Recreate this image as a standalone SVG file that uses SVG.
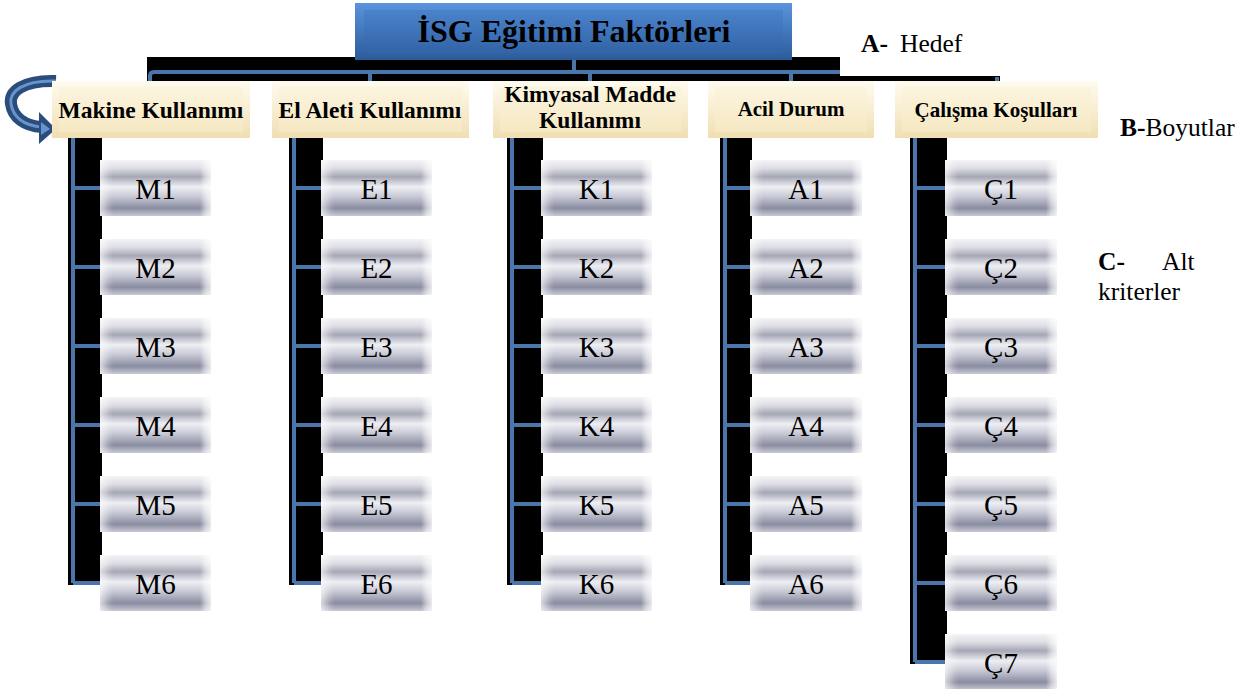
<svg xmlns="http://www.w3.org/2000/svg" width="1254" height="689" viewBox="0 0 1254 689">
<defs>
<linearGradient id="gBlueO" x1="0" y1="0" x2="0" y2="1"><stop offset="0" stop-color="#5a94dc"/><stop offset="1" stop-color="#2c5b9a"/></linearGradient>
<linearGradient id="gBlueI" x1="0" y1="0" x2="0" y2="1"><stop offset="0" stop-color="#4a83cc"/><stop offset="1" stop-color="#3264a6"/></linearGradient>
<linearGradient id="gCreamO" x1="0" y1="0" x2="0" y2="1"><stop offset="0" stop-color="#fefbef"/><stop offset="1" stop-color="#f1dfb2"/></linearGradient>
<linearGradient id="gCreamI" x1="0" y1="0" x2="0" y2="1"><stop offset="0" stop-color="#fbf4de"/><stop offset="1" stop-color="#f6e8c3"/></linearGradient>
<linearGradient id="gSilver" x1="0" y1="0" x2="0" y2="1">
<stop offset="0" stop-color="#f4f4f7"/><stop offset="0.15" stop-color="#dcdce3"/><stop offset="0.3" stop-color="#a6a7b6"/><stop offset="0.48" stop-color="#eeeff3"/><stop offset="0.66" stop-color="#c6c7d3"/><stop offset="0.86" stop-color="#8a8ca1"/><stop offset="1" stop-color="#c8c9d3"/></linearGradient>
<linearGradient id="gSide" x1="0" y1="0" x2="1" y2="0">
<stop offset="0" stop-color="#ffffff" stop-opacity="0.65"/><stop offset="0.08" stop-color="#ffffff" stop-opacity="0.15"/><stop offset="0.12" stop-color="#ffffff" stop-opacity="0"/><stop offset="0.9" stop-color="#ffffff" stop-opacity="0"/><stop offset="0.95" stop-color="#ffffff" stop-opacity="0.5"/><stop offset="1" stop-color="#ffffff" stop-opacity="0.8"/></linearGradient>
<style>
.title{font-family:"Liberation Serif","Times New Roman",serif;font-weight:bold;font-size:32px;fill:#000;text-anchor:middle}
.dim{font-family:"Liberation Serif","Times New Roman",serif;font-weight:bold;font-size:23.5px;fill:#000;text-anchor:middle}
.dims{font-family:"Liberation Serif","Times New Roman",serif;font-weight:bold;font-size:21px;fill:#000;text-anchor:middle}
.leaf{font-family:"Liberation Serif","Times New Roman",serif;font-size:29px;fill:#000;text-anchor:middle}
.lbl{font-family:"Liberation Serif","Times New Roman",serif;font-size:25.5px;fill:#000}
.b{font-weight:bold}
.sh{fill:#000}
.ln{fill:none;stroke:#4a76ac;stroke-width:4}
.silver{fill:url(#gSilver)}
.side{fill:url(#gSide)}
</style>
</defs>
<rect width="1254" height="689" fill="#fff"/>

<g id="connectors">
<rect class="sh" x="147" y="57" width="693" height="24"/>
<rect class="sh" x="840" y="76" width="160" height="5"/>
<path class="ln" d="M574 60 V72 M840 72 H154 Q150 72 150 76 V81 M370 72 V81 M590 72 V81 M791 72 V81 M997 77 V81"/>
<rect class="sh" x="68" y="138" width="34" height="447"/>
<rect class="sh" x="289" y="138" width="34" height="447"/>
<rect class="sh" x="507" y="138" width="36" height="447"/>
<rect class="sh" x="720" y="138" width="32" height="447"/>
<rect class="sh" x="910" y="138" width="37" height="526"/>
<path class="ln" d="M73 138 V583 M73 188 H100 M73 267 H100 M73 346 H100 M73 425 H100 M73 504 H100 M73 583 H100"/>
<path class="ln" d="M294 138 V583 M294 188 H321 M294 267 H321 M294 346 H321 M294 425 H321 M294 504 H321 M294 583 H321"/>
<path class="ln" d="M512 138 V583 M512 188 H541 M512 267 H541 M512 346 H541 M512 425 H541 M512 504 H541 M512 583 H541"/>
<path class="ln" d="M725 138 V583 M725 188 H750 M725 267 H750 M725 346 H750 M725 425 H750 M725 504 H750 M725 583 H750"/>
<path class="ln" d="M915 138 V662 M915 188 H945 M915 267 H945 M915 346 H945 M915 425 H945 M915 504 H945 M915 583 H945 M915 662 H945"/>
</g>

<g id="arrow">
<path d="M56 81 C22 80 9 92 11 104 C13 117 24 126 42 127" fill="none" stroke="#2b4d7b" stroke-width="12"/>
<path d="M56 81 C22 80 9 92 11 104 C13 117 24 126 42 127" fill="none" stroke="#6794ca" stroke-width="3"/>
<polygon points="39,112 56,129 39,144" fill="#2b4d7b"/>
<polygon points="41,122 50,129 41,135" fill="#6794ca"/>
</g>

<g id="goal">
<rect x="355" y="3" width="437" height="57" fill="url(#gBlueO)"/>
<rect x="364" y="10" width="419" height="43" fill="url(#gBlueI)"/>
<text class="title" x="574" y="42">İSG Eğitimi Faktörleri</text>
</g>

<g id="dim-makine">
<rect x="52" y="81" width="198" height="57" fill="url(#gCreamO)"/>
<rect x="59" y="87" width="184" height="45" fill="url(#gCreamI)"/>
<text class="dim" x="151" y="118">Makine Kullanımı</text>
</g>
<g id="dim-elaleti">
<rect x="272" y="81" width="197" height="57" fill="url(#gCreamO)"/>
<rect x="279" y="87" width="183" height="45" fill="url(#gCreamI)"/>
<text class="dim" x="370" y="118">El Aleti Kullanımı</text>
</g>
<g id="dim-kimyasal">
<rect x="493" y="81" width="195" height="57" fill="url(#gCreamO)"/>
<rect x="500" y="87" width="181" height="45" fill="url(#gCreamI)"/>
<text class="dim" x="590" y="102">Kimyasal Madde</text>
<text class="dim" x="590" y="128">Kullanımı</text>
</g>
<g id="dim-acil">
<rect x="708" y="81" width="166" height="57" fill="url(#gCreamO)"/>
<rect x="715" y="87" width="152" height="45" fill="url(#gCreamI)"/>
<text class="dims" x="791" y="116">Acil Durum</text>
</g>
<g id="dim-calisma">
<rect x="895" y="81" width="203" height="57" fill="url(#gCreamO)"/>
<rect x="902" y="87" width="189" height="45" fill="url(#gCreamI)"/>
<text class="dims" x="996" y="117">Çalışma Koşulları</text>
</g>

<g id="M1"><rect class="silver" x="100" y="160" width="111" height="56"/><rect class="side" x="100" y="160" width="111" height="56"/><text class="leaf" x="155.5" y="199">M1</text></g>
<g id="M2"><rect class="silver" x="100" y="239" width="111" height="56"/><rect class="side" x="100" y="239" width="111" height="56"/><text class="leaf" x="155.5" y="278">M2</text></g>
<g id="M3"><rect class="silver" x="100" y="318" width="111" height="56"/><rect class="side" x="100" y="318" width="111" height="56"/><text class="leaf" x="155.5" y="357">M3</text></g>
<g id="M4"><rect class="silver" x="100" y="397" width="111" height="56"/><rect class="side" x="100" y="397" width="111" height="56"/><text class="leaf" x="155.5" y="436">M4</text></g>
<g id="M5"><rect class="silver" x="100" y="476" width="111" height="56"/><rect class="side" x="100" y="476" width="111" height="56"/><text class="leaf" x="155.5" y="515">M5</text></g>
<g id="M6"><rect class="silver" x="100" y="555" width="111" height="56"/><rect class="side" x="100" y="555" width="111" height="56"/><text class="leaf" x="155.5" y="594">M6</text></g>

<g id="E1"><rect class="silver" x="321" y="160" width="111" height="56"/><rect class="side" x="321" y="160" width="111" height="56"/><text class="leaf" x="376.5" y="199">E1</text></g>
<g id="E2"><rect class="silver" x="321" y="239" width="111" height="56"/><rect class="side" x="321" y="239" width="111" height="56"/><text class="leaf" x="376.5" y="278">E2</text></g>
<g id="E3"><rect class="silver" x="321" y="318" width="111" height="56"/><rect class="side" x="321" y="318" width="111" height="56"/><text class="leaf" x="376.5" y="357">E3</text></g>
<g id="E4"><rect class="silver" x="321" y="397" width="111" height="56"/><rect class="side" x="321" y="397" width="111" height="56"/><text class="leaf" x="376.5" y="436">E4</text></g>
<g id="E5"><rect class="silver" x="321" y="476" width="111" height="56"/><rect class="side" x="321" y="476" width="111" height="56"/><text class="leaf" x="376.5" y="515">E5</text></g>
<g id="E6"><rect class="silver" x="321" y="555" width="111" height="56"/><rect class="side" x="321" y="555" width="111" height="56"/><text class="leaf" x="376.5" y="594">E6</text></g>

<g id="K1"><rect class="silver" x="541" y="160" width="111" height="56"/><rect class="side" x="541" y="160" width="111" height="56"/><text class="leaf" x="596.5" y="199">K1</text></g>
<g id="K2"><rect class="silver" x="541" y="239" width="111" height="56"/><rect class="side" x="541" y="239" width="111" height="56"/><text class="leaf" x="596.5" y="278">K2</text></g>
<g id="K3"><rect class="silver" x="541" y="318" width="111" height="56"/><rect class="side" x="541" y="318" width="111" height="56"/><text class="leaf" x="596.5" y="357">K3</text></g>
<g id="K4"><rect class="silver" x="541" y="397" width="111" height="56"/><rect class="side" x="541" y="397" width="111" height="56"/><text class="leaf" x="596.5" y="436">K4</text></g>
<g id="K5"><rect class="silver" x="541" y="476" width="111" height="56"/><rect class="side" x="541" y="476" width="111" height="56"/><text class="leaf" x="596.5" y="515">K5</text></g>
<g id="K6"><rect class="silver" x="541" y="555" width="111" height="56"/><rect class="side" x="541" y="555" width="111" height="56"/><text class="leaf" x="596.5" y="594">K6</text></g>

<g id="A1"><rect class="silver" x="750" y="160" width="112" height="56"/><rect class="side" x="750" y="160" width="112" height="56"/><text class="leaf" x="806" y="199">A1</text></g>
<g id="A2"><rect class="silver" x="750" y="239" width="112" height="56"/><rect class="side" x="750" y="239" width="112" height="56"/><text class="leaf" x="806" y="278">A2</text></g>
<g id="A3"><rect class="silver" x="750" y="318" width="112" height="56"/><rect class="side" x="750" y="318" width="112" height="56"/><text class="leaf" x="806" y="357">A3</text></g>
<g id="A4"><rect class="silver" x="750" y="397" width="112" height="56"/><rect class="side" x="750" y="397" width="112" height="56"/><text class="leaf" x="806" y="436">A4</text></g>
<g id="A5"><rect class="silver" x="750" y="476" width="112" height="56"/><rect class="side" x="750" y="476" width="112" height="56"/><text class="leaf" x="806" y="515">A5</text></g>
<g id="A6"><rect class="silver" x="750" y="555" width="112" height="56"/><rect class="side" x="750" y="555" width="112" height="56"/><text class="leaf" x="806" y="594">A6</text></g>

<g id="C1"><rect class="silver" x="945" y="160" width="112" height="56"/><rect class="side" x="945" y="160" width="112" height="56"/><text class="leaf" x="1001" y="199">Ç1</text></g>
<g id="C2"><rect class="silver" x="945" y="239" width="112" height="56"/><rect class="side" x="945" y="239" width="112" height="56"/><text class="leaf" x="1001" y="278">Ç2</text></g>
<g id="C3"><rect class="silver" x="945" y="318" width="112" height="56"/><rect class="side" x="945" y="318" width="112" height="56"/><text class="leaf" x="1001" y="357">Ç3</text></g>
<g id="C4"><rect class="silver" x="945" y="397" width="112" height="56"/><rect class="side" x="945" y="397" width="112" height="56"/><text class="leaf" x="1001" y="436">Ç4</text></g>
<g id="C5"><rect class="silver" x="945" y="476" width="112" height="56"/><rect class="side" x="945" y="476" width="112" height="56"/><text class="leaf" x="1001" y="515">Ç5</text></g>
<g id="C6"><rect class="silver" x="945" y="555" width="112" height="56"/><rect class="side" x="945" y="555" width="112" height="56"/><text class="leaf" x="1001" y="594">Ç6</text></g>
<g id="C7"><rect class="silver" x="945" y="634" width="112" height="56"/><rect class="side" x="945" y="634" width="112" height="56"/><text class="leaf" x="1001" y="673">Ç7</text></g>

<g id="labels">
<text class="lbl" x="861" y="52"><tspan class="b">A-</tspan><tspan x="900">Hedef</tspan></text>
<text class="lbl" x="1120" y="136"><tspan class="b">B-</tspan>Boyutlar</text>
<text class="lbl" x="1098" y="270"><tspan class="b">C-</tspan><tspan x="1162">Alt</tspan></text>
<text class="lbl" x="1098" y="300">kriterler</text>
</g>
</svg>
